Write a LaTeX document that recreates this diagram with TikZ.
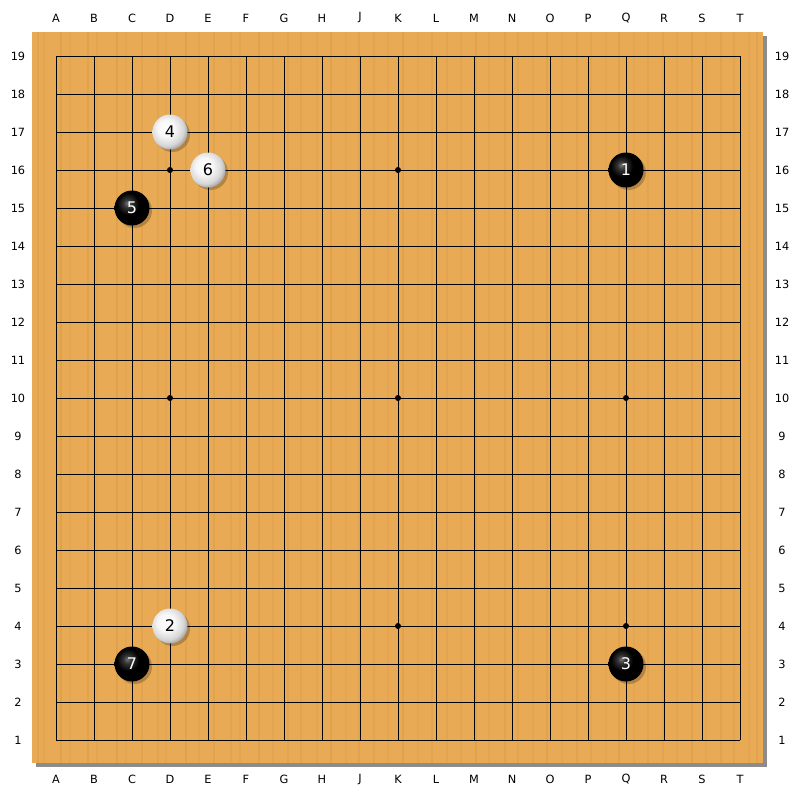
\documentclass[tikz,border=0pt]{standalone}
\usepackage{fontspec}
\setmainfont{DejaVu Sans}
\usetikzlibrary{shadings}
\definecolor{wood}{RGB}{232,170,84}
\definecolor{woodline}{RGB}{218,154,70}
\definecolor{boardshadow}{RGB}{140,140,140}
\pgfdeclareradialshading{blackball}{\pgfpoint{-7bp}{7bp}}{color(0bp)=(black!55); color(6bp)=(black!80); color(16bp)=(black); color(100bp)=(black)}
\pgfdeclareradialshading{whiteball}{\pgfpoint{-6bp}{6bp}}{color(0bp)=(white); color(12bp)=(white!97!black); color(24bp)=(white!84!black); color(31bp)=(white!62!black); color(100bp)=(white!62!black)}
\tikzset{
  coordlabel/.style={font=\fontsize{8.5}{10}\selectfont, text=black, inner sep=0pt},
  stonebase/.style={circle, minimum size=26.25pt, inner sep=0pt, font=\fontsize{12}{13}\selectfont},
  blackstone/.style={stonebase, shading=blackball},
  whitestone/.style={stonebase, shading=whiteball},
  stoneshadow/.style={fill=black, opacity=0.22},
  gridline/.style={line width=0.7pt, black},
  starpt/.style={circle, fill=black, minimum size=4.5pt, inner sep=0pt}
}
\begin{document}
\begin{tikzpicture}[x=0.75pt,y=-0.75pt]
\useasboundingbox (0,0) rectangle (800,800);
\fill[white] (0,0) rectangle (800,800);
% board shadow and board
\fill[boardshadow] (36,36) rectangle (767,767);
\fill[wood] (32,32) rectangle (763,763);
% faint wood grain
\foreach \gx/\op in {38/0.4,44/0.25,61/0.5,70/0.3,88/0.45,97/0.3,117/0.5,126/0.25,142/0.4,158/0.35,166/0.25,186/0.45,199/0.3,214/0.4,231/0.35,240/0.25,259/0.45,273/0.3,288/0.4,301/0.35,317/0.25,331/0.45,346/0.3,359/0.4,374/0.35,388/0.25,403/0.45,418/0.3,432/0.4,447/0.35,461/0.25,476/0.45,489/0.3,505/0.4,518/0.35,533/0.25,547/0.45,562/0.3,577/0.4,591/0.35,606/0.25,619/0.45,634/0.3,648/0.4,663/0.35,677/0.25,692/0.45,706/0.3,721/0.4,734/0.35,749/0.25,757/0.4}
  \draw[woodline, line width=1pt, opacity=\op] (\gx,32) -- (\gx,763);
% grid
\foreach \i in {0,...,18} {
  \draw[gridline] (56+38*\i,56) -- (56+38*\i,740);
  \draw[gridline] (56,56+38*\i) -- (740,56+38*\i);
}
% star points
\foreach \sx in {3,9,15} \foreach \sy in {3,9,15}
  \node[starpt] (star-\sx-\sy) at (56+38*\sx,56+38*\sy) {};
% coordinate labels
\foreach \L [count=\k from 0] in {A,B,C,D,E,F,G,H,J,K,L,M,N,O,P,Q,R,S,T} {
  \node[coordlabel] (top-\L) at (56+38*\k,18) {\L};
  \node[coordlabel] (bot-\L) at (56+38*\k,779) {\L};
}
\foreach \r in {1,...,19} {
  \node[coordlabel] (left-\r) at (18,778-38*\r) {\r};
  \node[coordlabel] (right-\r) at (782,778-38*\r) {\r};
}
% stone shadows
\foreach \cx/\cy in {626/170,170/626,626/664,170/132,132/208,208/170,132/664}
  \fill[stoneshadow] (\cx+2.5,\cy+2.5) circle (17.5);
% stones
\node[blackstone] (s1) at (626,170) {\textcolor{white}{1}};
\node[whitestone] (s2) at (170,626) {\textcolor{black}{2}};
\node[blackstone] (s3) at (626,664) {\textcolor{white}{3}};
\node[whitestone] (s4) at (170,132) {\textcolor{black}{4}};
\node[blackstone] (s5) at (132,208) {\textcolor{white}{5}};
\node[whitestone] (s6) at (208,170) {\textcolor{black}{6}};
\node[blackstone] (s7) at (132,664) {\textcolor{white}{7}};
\end{tikzpicture}
\end{document}
